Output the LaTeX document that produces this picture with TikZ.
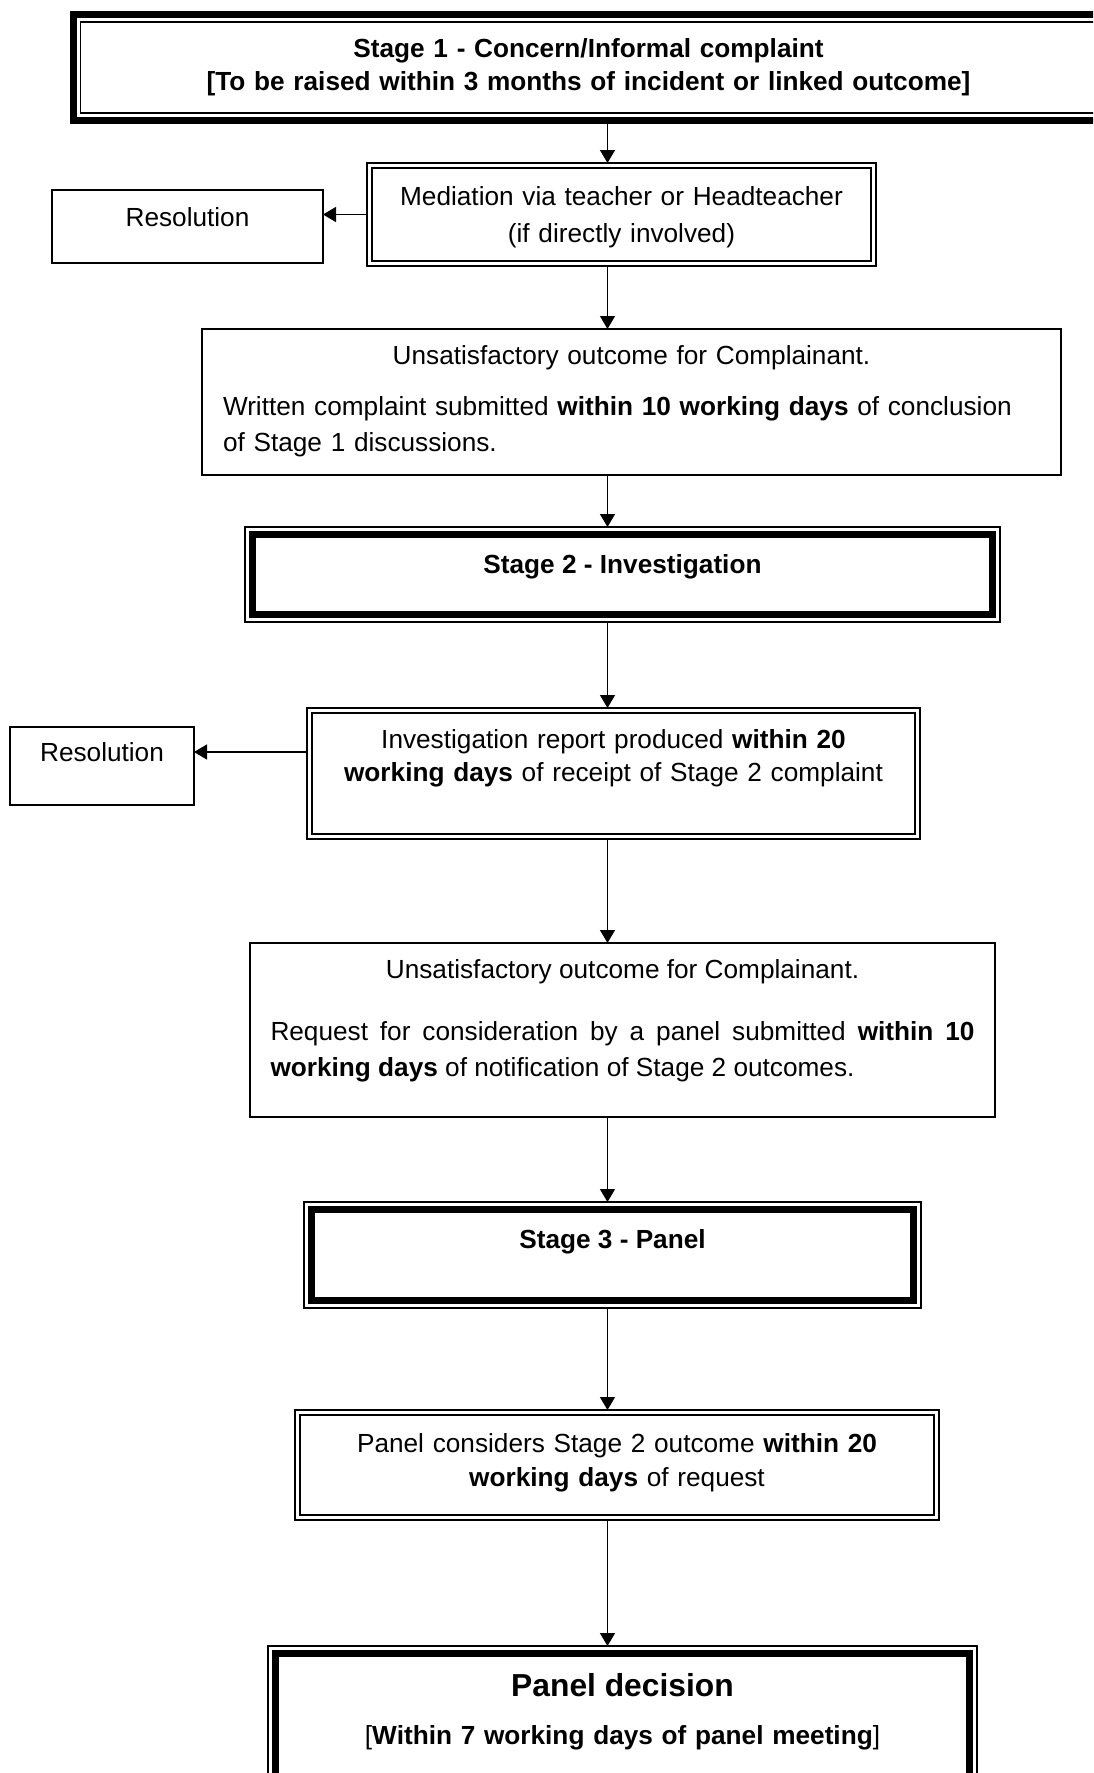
\documentclass[tikz,border=0pt]{standalone}
\usepackage{fontspec}
\setmainfont{Liberation Sans}
\usetikzlibrary{arrows.meta}

\newcommand\bodyfont{\fontsize{26.2pt}{36pt}\selectfont}
\newcommand\stagefont{\fontsize{26.2pt}{33pt}\selectfont\bfseries}

\tikzset{
    flowbox/.style={draw, line width=1.3pt, inner sep=0pt, outer sep=0pt, font=\bodyfont},
    inner frame/.style 2 args={append after command={\pgfextra{
        \draw [line width=#2] ([shift={(#1,-#1)}]\tikzlastnode.north west)
            rectangle ([shift={(-#1,#1)}]\tikzlastnode.south east);}}},
    doublebox/.style={flowbox, inner frame={5pt}{2pt}},
    stagebox/.style={flowbox, font=\stagefont, inner frame={7.5pt}{7pt}},
    flow/.style={line width=1.3pt, -{Triangle[length=13pt, width=15pt]}},
}

\begin{document}
\begin{tikzpicture}[x=1pt, y=-1pt]
    \useasboundingbox (0,0) rectangle (1093,1773);
    \clip (0,0) rectangle (1093,1773);

    \node (stage1) [flowbox, line width=7pt, inner frame={7.3pt}{1.3pt}, font=\stagefont, minimum width=1031pt, text width=1000pt, align=center, text height=42.3pt, text depth=63.3pt] at (588.5,67.5) {Stage 1 - Concern/Informal complaint\par [To be raised within 3 months of incident or linked outcome]};

    \node (med) [doublebox, font=\fontsize{26.2pt}{37pt}\selectfont, minimum width=509pt, text width=490pt, align=center, text height=42pt, text depth=61pt] at (621.5,214.5) {Mediation via teacher or Headteacher\par (if directly involved)};
    \node (res1) [flowbox, minimum width=271pt, text height=36.5pt, text depth=36.5pt] at (187.5,226.5) {Resolution};

    \node (unsat1) [flowbox, minimum width=859pt, text width=817pt, text height=35.6pt, text depth=110.4pt] at (631.5,402) {{\centering Unsatisfactory outcome for Complainant.\par}\vspace{15pt}\raggedright Written complaint submitted \textbf{within 10 working days} of conclusion\\ of Stage 1 discussions.};

    \node (stage2) [stagebox, minimum width=755pt, text height=46.6pt, text depth=48.4pt] at (622.5,574.5) {Stage 2 - Investigation};

    \node (inv) [doublebox, font=\fontsize{26.2pt}{33pt}\selectfont, minimum width=613pt, text width=590pt, align=center, text height=40.8pt, text depth=90.2pt] at (613.5,773.5) {Investigation report produced \textbf{within 20}\par \textbf{working days} of receipt of Stage 2 complaint};
    \node (res2) [flowbox, minimum width=184pt, text height=34.2pt, text depth=43.8pt] at (102,766) {Resolution};

    \node (unsat2) [flowbox, minimum width=745pt, text width=704pt, align=justify, text height=35.6pt, text depth=138.4pt] at (622.5,1030) {{\centering Unsatisfactory outcome for Complainant.\par}\vspace{26pt}Request for consideration by a panel submitted \textbf{within 10}\linebreak \textbf{working days} of notification of Stage 2 outcomes.};

    \node (stage3) [stagebox, minimum width=617pt, text height=46.6pt, text depth=59.4pt] at (612.5,1255) {Stage 3 - Panel};

    \node (consider) [doublebox, font=\fontsize{26.2pt}{34pt}\selectfont, minimum width=644pt, text width=620pt, align=center, text height=42pt, text depth=68pt] at (617,1465) {Panel considers Stage 2 outcome \textbf{within 20}\par \textbf{working days} of request};

    \node (decision) [stagebox, font=\bodyfont, minimum width=709pt, text width=680pt, align=center, text height=50.8pt, text depth=111.2pt] at (622.5,1727) {{\fontsize{31.8pt}{38pt}\selectfont\bfseries Panel decision\par}\vspace{11.8pt}[\textbf{Within 7 working days of panel meeting}]};

    \coordinate (spine) at (607.5,0);
    \coordinate (invout) at ([yshift=21.5pt]inv.west);

    \draw [flow] (stage1.south -| spine) -- (med.north -| spine);
    \draw [flow] (med.south -| spine) -- (unsat1.north -| spine);
    \draw [flow] (unsat1.south -| spine) -- (stage2.north -| spine);
    \draw [flow] (stage2.south -| spine) -- (inv.north -| spine);
    \draw [flow] (inv.south -| spine) -- (unsat2.north -| spine);
    \draw [flow] (unsat2.south -| spine) -- (stage3.north -| spine);
    \draw [flow] (stage3.south -| spine) -- (consider.north -| spine);
    \draw [flow] (consider.south -| spine) -- (decision.north -| spine);

    \draw [flow] (med.west) -- (med.west -| res1.east);
    \draw [flow] (invout) -- (invout -| res2.east);

\end{tikzpicture}
\end{document}
